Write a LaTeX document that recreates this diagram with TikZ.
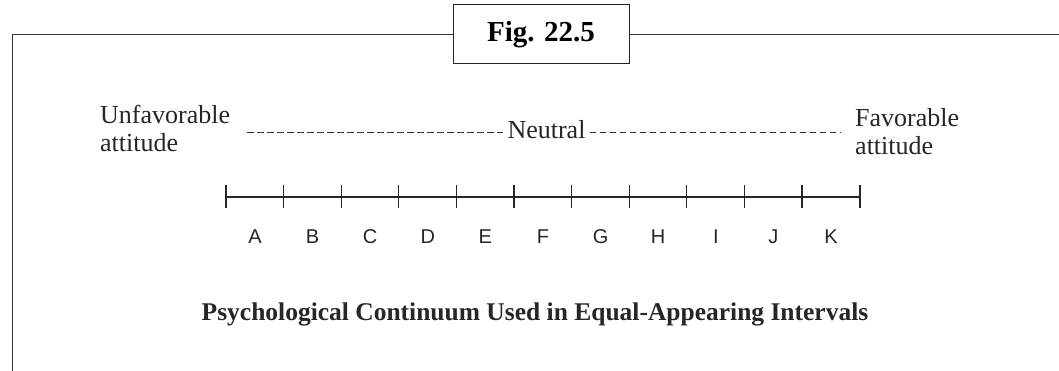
\documentclass[tikz,border=0pt]{standalone}
\usepackage{fontspec}
\setmainfont{Liberation Serif}
\newfontfamily\letterfont{Liberation Sans}
\usepackage{tikz}
\usetikzlibrary{matrix}
\tikzset{figbox/.style = {draw=black!85,line width=1pt,minimum width=176pt,minimum height=59pt,inner sep=0pt,font=\fontsize{29}{34}\selectfont\bfseries}}
\tikzset{endlabel/.style = {align=left,inner sep=0pt,text=black!85,font=\fontsize{26}{28}\selectfont}}
\tikzset{neutraldash/.style = {draw=black!80,line width=0.9pt,dash pattern=on 6.5pt off 3.5pt}}
\tikzset{frameline/.style = {draw=black!80,line width=1pt}}
\NewDocumentCommand{\ftick}{m m}{%
\draw[black!85,line width=1.1pt] (#1.#2 |- 0,185) -- (#1.#2 |- 0,208);
}

\begin{document}
\begin{tikzpicture}[x=1pt,y=-1pt,ampersand replacement=\&]
\useasboundingbox (0,0) rectangle (1059,371);

\node[figbox] (fig) at (541,34.5) {Fig. 22.5};
\coordinate (frameL) at (12,34.5);
\coordinate (frameB) at (12,371);
\coordinate (frameR) at (1059,34.5);
\draw[frameline] (fig.west) -- (frameL) -- (frameB);
\draw[frameline] (fig.east) -- (frameR);

% base anchor sits on the last line
\node[endlabel,anchor=base west] (unfav) at (100,152) {Unfavorable\\attitude};
\node[endlabel,anchor=base west] (fav) at (855,155) {Favorable\\attitude};
\node[endlabel,anchor=base,inner sep=4pt] (neutral) at (546.5,139) {Neutral};

\coordinate (dashL) at (247,132.5);
\coordinate (dashR) at (841,132.5);
\draw[neutraldash] (dashL) -- (dashL -| neutral.west);
\draw[neutraldash] (neutral.east |- dashR) -- (dashR);

\matrix(scale)[matrix of nodes,inner sep=0pt,column sep=0pt,
  nodes={minimum width=57.6pt,inner sep=0pt,text=black!85,font=\letterfont\fontsize{20}{24}\selectfont}]
  at (543,236.5)
{
 A \& B \& C \& D \& E \& F \& G \& H \& I \& J \& K \\
};

\draw[black!85,line width=1.1pt] (scale-1-1.west |- 0,197) -- (scale-1-11.east |- 0,197);
\ftick{scale-1-1}{west}
\ftick{scale-1-2}{west}
\ftick{scale-1-3}{west}
\ftick{scale-1-4}{west}
\ftick{scale-1-5}{west}
\ftick{scale-1-6}{west}
\ftick{scale-1-7}{west}
\ftick{scale-1-8}{west}
\ftick{scale-1-9}{west}
\ftick{scale-1-10}{west}
\ftick{scale-1-11}{west}
\ftick{scale-1-11}{east}

\node[anchor=base,inner sep=0pt,text=black!85,font=\fontsize{25.5}{30}\selectfont\bfseries] (caption) at (535,320)
 {Psychological Continuum Used in Equal-Appearing Intervals};
\end{tikzpicture}
\end{document}
